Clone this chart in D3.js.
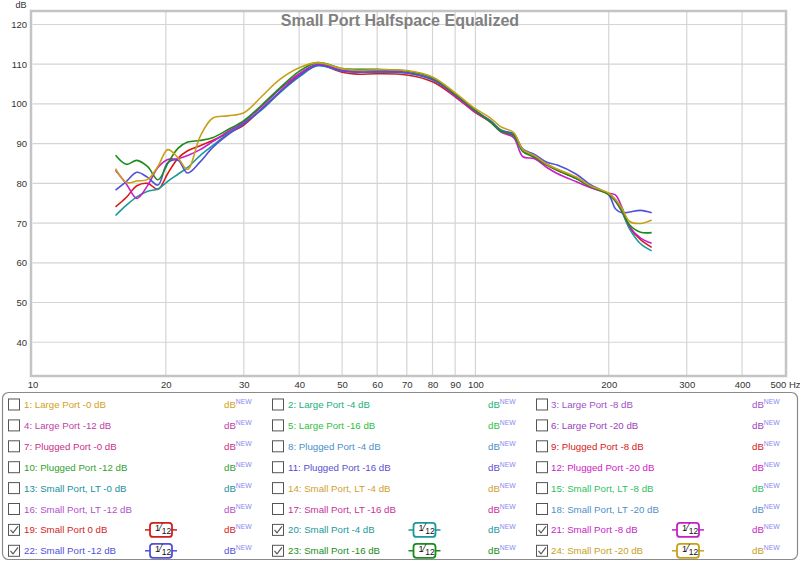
<!DOCTYPE html>
<html><head><meta charset="utf-8">
<script src="https://cdn.jsdelivr.net/npm/d3@7"></script>
<style>
body{margin:0;background:#fff;}
svg{display:block;font-family:"Liberation Sans",Arial,sans-serif;}
</style>
</head><body>
<svg id="chart" width="800" height="563"></svg>
<script>
// ---------- data ----------
const title = "Small Port Halfspace Equalized";
const freqs = [15.4, 16.3, 17.2, 18.2, 19.2, 20.2, 21.3, 22.4, 23.9, 25.5, 27.6, 30, 33, 36, 40, 44, 50, 54, 60, 70, 80, 90, 100, 108, 114, 122, 128, 136, 145, 153, 169, 181, 200, 207, 214, 223, 236, 250];
const smallPort0  = [74.1, 76.5, 79.4, 80.0, 78.5, 82.5, 86.3, 88.2, 89.5, 90.8, 92.6, 94.7, 98.9, 102.8, 107.4, 109.8, 108.0, 107.5, 107.6, 107.3, 105.6, 101.8, 97.8, 95.5, 93.3, 92.0, 88.5, 86.5, 84.6, 83.3, 81.2, 79.3, 77.3, 75.5, 73.0, 68.8, 65.8, 63.9];
const smallPort4  = [71.9, 74.5, 76.6, 78.0, 78.6, 80.5, 82.3, 84.0, 87.0, 89.5, 92.5, 95.2, 98.6, 102.6, 106.8, 109.6, 108.3, 108.0, 108.0, 107.8, 106.0, 102.2, 98.1, 95.8, 93.5, 92.2, 88.4, 86.8, 84.8, 83.5, 81.3, 79.4, 77.4, 75.6, 73.0, 68.5, 64.8, 63.0];
const smallPort8  = [83.3, 79.8, 76.2, 79.5, 84.0, 86.0, 86.2, 87.0, 88.5, 90.5, 93.0, 95.5, 99.5, 103.5, 107.6, 110.0, 108.5, 108.3, 108.4, 107.9, 106.2, 102.0, 98.0, 95.5, 93.0, 91.5, 86.7, 86.2, 84.0, 82.5, 80.4, 79.0, 77.5, 77.1, 74.1, 69.1, 66.2, 64.9];
const smallPort12 = [78.3, 80.5, 82.8, 81.5, 79.6, 85.2, 85.8, 82.6, 85.4, 89.0, 92.2, 95.0, 98.8, 102.8, 107.0, 109.7, 108.3, 108.0, 108.1, 107.8, 106.2, 102.3, 98.3, 95.8, 93.3, 92.5, 88.6, 87.3, 85.3, 84.6, 82.3, 79.8, 77.1, 73.6, 72.6, 72.8, 73.2, 72.6];
const smallPort16 = [87.1, 84.8, 85.8, 84.2, 80.9, 85.0, 88.8, 90.4, 90.8, 91.5, 93.5, 95.8, 99.8, 103.8, 108.2, 110.4, 108.9, 108.7, 108.7, 108.3, 106.6, 102.5, 98.4, 95.5, 93.2, 92.0, 88.0, 86.6, 84.6, 83.3, 81.2, 79.3, 77.2, 75.8, 73.2, 69.5, 67.7, 67.6];
const smallPort20 = [83.7, 80.2, 80.6, 81.0, 84.3, 88.5, 86.5, 83.5, 91.8, 96.4, 97.0, 97.8, 102.0, 106.0, 109.1, 110.4, 108.9, 108.5, 108.6, 108.4, 106.8, 102.8, 98.8, 96.5, 94.3, 92.8, 88.5, 87.0, 84.8, 83.6, 81.6, 79.5, 77.5, 76.0, 73.8, 70.4, 69.9, 70.8];

const plottedValues = [smallPort0, smallPort4, smallPort8, smallPort12, smallPort16, smallPort20];
const plottedColors = ["#d41c1c", "#1a9a9a", "#c81ec8", "#5050d8", "#1a8c1a", "#c8a018"];

const xTicks = [10, 20, 30, 40, 50, 60, 70, 80, 90, 100, 200, 300, 400, 500];
const xTickLabels = ["10", "20", "30", "40", "50", "60", "70", "80", "90", "100", "200", "300", "400", "500 Hz"];
const yTicks = [40, 50, 60, 70, 80, 90, 100, 110, 120];

const legendLabels = [
  "1: Large Port -0 dB", "2: Large Port -4 dB", "3: Large Port -8 dB",
  "4: Large Port -12 dB", "5: Large Port -16 dB", "6: Large Port -20 dB",
  "7: Plugged Port -0 dB", "8: Plugged Port -4 dB", "9: Plugged Port -8 dB",
  "10: Plugged Port -12 dB", "11: Plugged Port -16 dB", "12: Plugged Port -20 dB",
  "13: Small Port, LT -0 dB", "14: Small Port, LT -4 dB", "15: Small Port, LT -8 dB",
  "16: Small Port, LT -12 dB", "17: Small Port, LT -16 dB", "18: Small Port, LT -20 dB",
  "19: Small Port 0 dB", "20: Small Port -4 dB", "21: Small Port -8 dB",
  "22: Small Port -12 dB", "23: Small Port -16 dB", "24: Small Port -20 dB"
];
const legendColors = [
  "#d4a020", "#22b078", "#a050c8",
  "#c040a8", "#30c040", "#a040c0",
  "#c83088", "#4a90c8", "#d42020",
  "#30a030", "#5a50d0", "#d020c8",
  "#2090a0", "#d0a030", "#30c060",
  "#b050c8", "#c83098", "#5090c8",
  "#d41c1c", "#1a9a9a", "#c81ec8",
  "#5050d8", "#1a8c1a", "#c8a018"
];
const legendChecked = [19, 20, 21, 22, 23, 24];

// ---------- drawing ----------
const svg = d3.select("#chart");
const x = d3.scaleLog().domain([10, 500]).range([32.5, 785]);
const y = d3.scaleLinear().domain([31.5, 123.4]).range([376, 11]);

// grid
const grid = svg.append("g");
grid.selectAll("line.v").data(xTicks.slice(1, -1)).join("line")
  .attr("x1", d => x(d)).attr("x2", d => x(d))
  .attr("y1", y.range()[1]).attr("y2", y.range()[0])
  .attr("stroke", "#d4d4d4").attr("stroke-width", 1.2);
grid.selectAll("line.h").data(yTicks).join("line")
  .attr("x1", x.range()[0]).attr("x2", x.range()[1])
  .attr("y1", d => y(d)).attr("y2", d => y(d))
  .attr("stroke", "#d4d4d4").attr("stroke-width", 1.2);

// frame
svg.append("rect").attr("x", 31).attr("y", 11).attr("width", 755).attr("height", 365)
  .attr("fill", "none").attr("stroke", "#c4c4c4").attr("stroke-width", 2.5);

// axes
const xAxis = d3.axisBottom(x).tickValues(xTicks).tickSize(0).tickPadding(0)
  .tickFormat((d, i) => xTickLabels[i]);
const gx = svg.append("g").attr("transform", "translate(0,379)").call(xAxis);
gx.select(".domain").remove();
gx.selectAll("text").attr("font-size", 9.5).attr("fill", "#333").attr("dy", "0.9em")
  .attr("font-family", "'Liberation Sans',Arial,sans-serif");

const yAxis = d3.axisLeft(y).tickValues(yTicks).tickSize(0).tickPadding(0);
const gy = svg.append("g").attr("transform", "translate(27,0)").call(yAxis);
gy.select(".domain").remove();
gy.selectAll("text").attr("font-size", 9.5).attr("fill", "#333")
  .attr("font-family", "'Liberation Sans',Arial,sans-serif");

svg.append("text").attr("x", 21).attr("y", 8).attr("text-anchor", "middle")
  .attr("font-size", 9).attr("fill", "#333").text("dB");

// title
svg.append("text").attr("x", 400).attr("y", 26).attr("text-anchor", "middle")
  .attr("font-size", 16).attr("font-weight", "bold").attr("fill", "#808080").text(title);

// curves
const line = d3.line().x((d, i) => x(freqs[i])).y(d => y(d)).curve(d3.curveCatmullRom.alpha(0.5));
svg.append("g").selectAll("path").data(plottedValues).join("path")
  .attr("d", d => line(d)).attr("fill", "none")
  .attr("stroke", (d, i) => plottedColors[i]).attr("stroke-width", 1.6)
  .attr("stroke-linejoin", "round");

// legend
svg.append("rect").attr("x", 2.5).attr("y", 392.5).attr("width", 795).attr("height", 167)
  .attr("rx", 6).attr("fill", "#fff").attr("stroke", "#8a8a8a").attr("stroke-width", 1.2);

const colBox = [8.5, 272.5, 536.5];
const colText = [24, 288, 551];
const colBadge = [161, 424.5, 688];
const colDb = [224, 488, 752];

const items = svg.append("g").selectAll("g").data(legendLabels).join("g")
  .attr("transform", (d, i) => `translate(0,${404.5 + Math.floor(i / 3) * 20.9})`);

items.append("rect")
  .attr("x", (d, i) => colBox[i % 3]).attr("y", -5.5).attr("width", 11).attr("height", 11)
  .attr("fill", "#fff").attr("stroke", "#555").attr("stroke-width", 1);

items.filter((d, i) => legendChecked.includes(i + 1)).append("path")
  .attr("d", (d, i) => {
    const bx = colBox[(legendLabels.indexOf(d)) % 3];
    return `M${bx + 2},${0} L${bx + 4.5},${3} L${bx + 9.5},${-3.5}`;
  })
  .attr("fill", "none").attr("stroke", "#555").attr("stroke-width", 1.2);

items.append("text")
  .attr("x", (d, i) => colText[i % 3]).attr("y", 3.5)
  .attr("font-size", 9.7).attr("fill", (d, i) => legendColors[i]).text(d => d);

const dbT = items.append("text")
  .attr("x", (d, i) => colDb[i % 3]).attr("y", 3.5)
  .attr("font-size", 9.7).attr("fill", (d, i) => legendColors[i]);
dbT.append("tspan").text("dB");
dbT.append("tspan").attr("dy", -4).attr("font-size", 6.8).attr("fill", "#8888f0").text("NEW");

// 1/12 badges for checked series
const badges = items.filter((d, i) => legendChecked.includes(i + 1)).append("g")
  .attr("transform", d => `translate(${colBadge[legendLabels.indexOf(d) % 3]},0)`);
badges.append("line").attr("x1", -16).attr("x2", 16).attr("y1", 0).attr("y2", 0)
  .attr("stroke", d => legendColors[legendLabels.indexOf(d)]).attr("stroke-width", 1.5);
badges.append("rect").attr("x", -11).attr("y", -7).attr("width", 22).attr("height", 14).attr("rx", 3)
  .attr("fill", "#fff").attr("stroke", d => legendColors[legendLabels.indexOf(d)]).attr("stroke-width", 1.8);
const bt = badges.append("text").attr("x", -6).attr("y", 3).attr("font-size", 9).attr("fill", "#111");
bt.append("tspan").attr("dy", -1.5).text("1");
bt.append("tspan").attr("dy", 0).attr("font-size", 10).text("⁄");
bt.append("tspan").attr("dy", 3).attr("font-size", 8.5).text("12");
</script>
</body></html>
